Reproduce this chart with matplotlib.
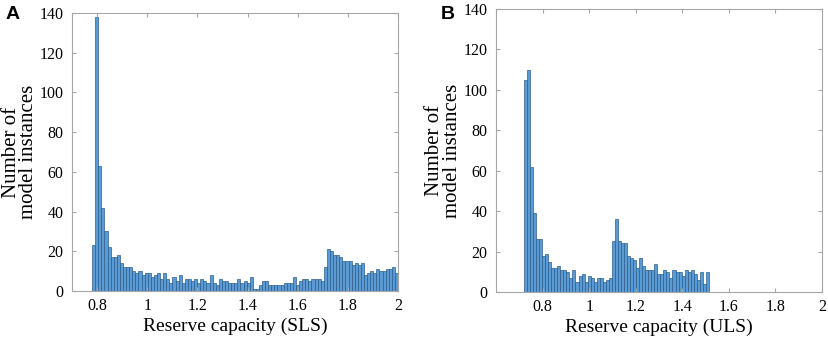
import numpy as np
import matplotlib
matplotlib.use("Agg")
import matplotlib.pyplot as plt
from matplotlib.ticker import FuncFormatter

# Panel A: reserve capacity (SLS), histogram counts
sls_start, sls_end = 0.78, 2.0
sls_counts = [23, 138, 63, 42, 30, 22, 17, 17, 18, 14, 12, 12, 12, 10, 9, 10, 8, 9, 9, 7,
              8, 9, 6, 9, 6, 4, 7, 5, 8, 4, 6, 6, 5, 6, 4, 6, 5, 4, 8, 4,
              3, 6, 5, 5, 4, 4, 4, 6, 4, 5, 4, 7, 1, 1, 3, 5, 5, 3, 3, 3,
              3, 3, 4, 4, 4, 7, 3, 5, 6, 6, 5, 6, 6, 6, 5, 12, 21, 20, 18, 18,
              17, 15, 15, 15, 13, 14, 13, 14, 8, 9, 10, 9, 11, 10, 10, 11, 11, 12, 9]

# Panel B: reserve capacity (ULS), histogram counts
uls_start, uls_end = 0.72, 1.514
uls_counts = [105, 110, 62, 39, 26, 26, 18, 19, 15, 12, 12, 13, 11, 11, 10, 7, 11, 5, 8, 9,
              5, 8, 7, 5, 7, 7, 5, 6, 7, 25, 36, 25, 24, 24, 18, 17, 16, 12, 17, 13,
              11, 11, 11, 14, 9, 9, 11, 10, 7, 11, 10, 10, 8, 11, 10, 11, 9, 6, 10, 4, 10]

plt.rcParams['font.family'] = ['Liberation Serif', 'DejaVu Serif']

fig = plt.figure(figsize=(8.29, 3.41), dpi=100)
ax_a = fig.add_axes([0.0869, 0.1466, 0.3932, 0.8152])
ax_b = fig.add_axes([0.5983, 0.1437, 0.3933, 0.8299])

bar_color = '#5b9bd5'
edge_color = '#2e5f8c'
axis_color = '#a6a6a6'


def draw(ax, start, end, counts, xlim, xlabel):
    edges = np.linspace(start, end, len(counts) + 1)
    ax.bar(edges[:-1], counts, width=np.diff(edges), align='edge',
           color=bar_color, edgecolor=edge_color, linewidth=0.5)
    ax.set_xlim(*xlim)
    ax.set_ylim(0, 140)
    ax.set_xticks([0.8, 1.0, 1.2, 1.4, 1.6, 1.8, 2.0])
    ax.set_yticks(range(0, 141, 20))
    ax.xaxis.set_major_formatter(FuncFormatter(lambda v, p: '%g' % v))
    ax.tick_params(direction='in', top=True, right=True, length=3,
                   color=axis_color, labelsize=11.5)
    ax.tick_params(axis='y', pad=6)
    ax.tick_params(axis='x', pad=5)
    for s in ax.spines.values():
        s.set_color(axis_color)
        s.set_linewidth(0.8)
    ax.set_xlabel(xlabel, fontsize=14, labelpad=3)
    ax.set_ylabel('Number of\nmodel instances', fontsize=15, linespacing=0.9)
    ax.yaxis.set_label_coords(-0.104, 0.5)


draw(ax_a, sls_start, sls_end, sls_counts, (0.7, 2.0), 'Reserve capacity (SLS)')
draw(ax_b, uls_start, uls_end, uls_counts, (0.6, 2.0), 'Reserve capacity (ULS)')

fig.text(0.007, 0.944, 'A', fontsize=14, fontweight='bold', family='Liberation Sans')
fig.text(0.532, 0.944, 'B', fontsize=14, fontweight='bold', family='Liberation Sans')

fig.savefig('out.png', dpi=100)
